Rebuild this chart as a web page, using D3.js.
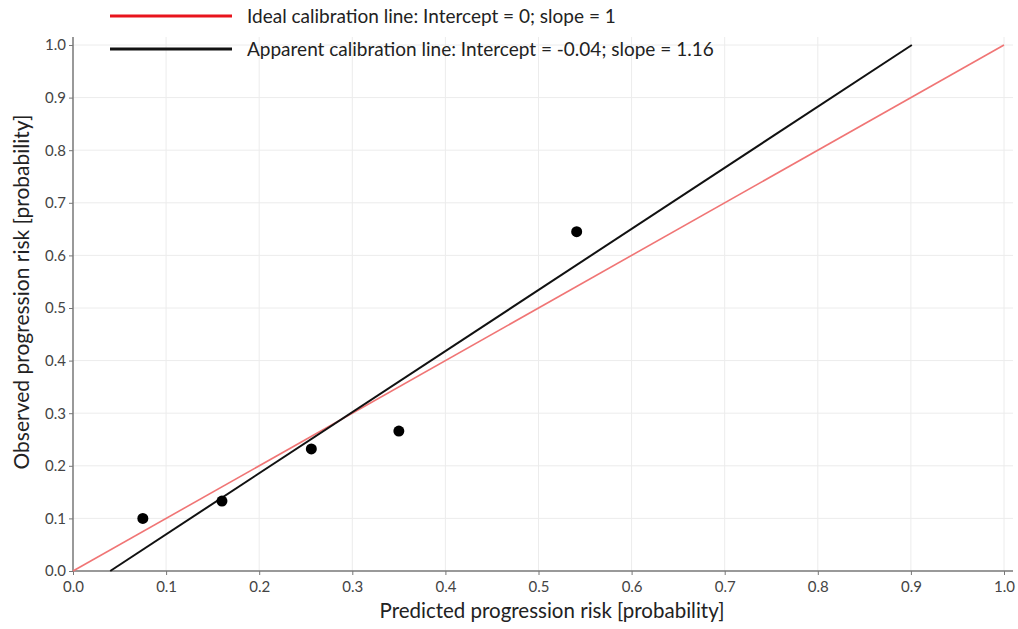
<!DOCTYPE html>
<html>
<head>
<meta charset="utf-8">
<script src="https://cdn.jsdelivr.net/npm/d3@7"></script>
<style>
  body { margin: 0; background: #fff; }
  svg { display: block; }
</style>
</head>
<body>
<div id="chart"></div>
<script>
// Observed vs predicted points
var predicted = [0.075, 0.160, 0.256, 0.350, 0.541];
var observed = [0.100, 0.133, 0.232, 0.266, 0.645];

// Calibration lines, as end points
var idealLine = [[0, 0], [1, 1]];
var apparentLine = [[0.04, 0], [0.901, 1]];

var tickValues = [0, 0.1, 0.2, 0.3, 0.4, 0.5, 0.6, 0.7, 0.8, 0.9, 1.0];
var legendLabels = [
    "Ideal calibration line: Intercept = 0; slope = 1",
    "Apparent calibration line: Intercept = -0.04; slope = 1.16"
];
var legendColors = ["#e8141c", "#111"];

var width = 1018;
var height = 629;
var font = "Lato, 'Open Sans', sans-serif";

var x = d3.scaleLinear().domain([0, 1]).range([73, 1004]);
var y = d3.scaleLinear().domain([0, 1]).range([571, 45]);
var plotTop = 37;
var plotRight = 1013;

var svg = d3.select("#chart")
    .append("svg")
    .attr("width", width)
    .attr("height", height);

// Grid lines
svg.append("g")
    .selectAll("line")
    .data(tickValues.slice(1))
    .enter()
    .append("line")
    .attr("x1", function (d) { return x(d); })
    .attr("x2", function (d) { return x(d); })
    .attr("y1", plotTop)
    .attr("y2", y(0))
    .attr("stroke", "#ececec")
    .attr("stroke-width", 1);

svg.append("g")
    .selectAll("line")
    .data(tickValues.slice(1))
    .enter()
    .append("line")
    .attr("x1", x(0))
    .attr("x2", plotRight)
    .attr("y1", function (d) { return y(d); })
    .attr("y2", function (d) { return y(d); })
    .attr("stroke", "#ececec")
    .attr("stroke-width", 1);

// Axes
var xAxis = svg.append("g")
    .attr("transform", "translate(0," + y(0) + ")")
    .call(d3.axisBottom(x).tickValues(tickValues).tickFormat(d3.format(".1f")).tickSize(4).tickSizeOuter(0));
xAxis.select(".domain").attr("d", "M" + x(0) + ",0H" + plotRight);

var yAxis = svg.append("g")
    .attr("transform", "translate(" + x(0) + ",0)")
    .call(d3.axisLeft(y).tickValues(tickValues).tickFormat(d3.format(".1f")).tickSize(4).tickSizeOuter(0));
yAxis.select(".domain").attr("d", "M0," + plotTop + "V" + y(0));

svg.selectAll(".domain").attr("stroke", "#777").attr("stroke-width", 1.5);
svg.selectAll(".tick line").attr("stroke", "#777");
svg.selectAll(".tick text")
    .style("font-family", font)
    .style("font-size", "15px")
    .attr("fill", "#444");
xAxis.selectAll(".tick text").attr("dy", "0.9em");

// Calibration lines
var line = d3.line()
    .x(function (d) { return x(d[0]); })
    .y(function (d) { return y(d[1]); });

svg.append("path")
    .datum(idealLine)
    .attr("d", line)
    .attr("fill", "none")
    .attr("stroke", "#f07575")
    .attr("stroke-width", 1.6);

svg.append("path")
    .datum(apparentLine)
    .attr("d", line)
    .attr("fill", "none")
    .attr("stroke", "#111")
    .attr("stroke-width", 2);

// Points
svg.append("g")
    .selectAll("circle")
    .data(predicted)
    .enter()
    .append("circle")
    .attr("cx", function (d) { return x(d); })
    .attr("cy", function (d, i) { return y(observed[i]); })
    .attr("r", 5.5)
    .attr("fill", "#000");

// Legend
var legend = svg.append("g")
    .selectAll("g")
    .data(legendLabels)
    .enter()
    .append("g")
    .attr("transform", function (d, i) { return "translate(110," + (16 + i * 33) + ")"; });

legend.append("line")
    .attr("x1", 0)
    .attr("x2", 122)
    .attr("stroke", function (d, i) { return legendColors[i]; })
    .attr("stroke-width", 3);

legend.append("text")
    .attr("x", 137)
    .attr("dy", "0.35em")
    .style("font-family", font)
    .style("font-size", "19px")
    .attr("fill", "#222")
    .text(function (d) { return d; });

// Axis titles
svg.append("text")
    .attr("x", 552)
    .attr("y", 618)
    .attr("text-anchor", "middle")
    .style("font-family", font)
    .style("font-size", "20.5px")
    .attr("fill", "#222")
    .text("Predicted progression risk [probability]");

svg.append("text")
    .attr("transform", "translate(29," + 292 + ") rotate(-90)")
    .attr("text-anchor", "middle")
    .style("font-family", font)
    .style("font-size", "21px")
    .attr("fill", "#222")
    .text("Observed progression risk [probability]");
</script>
</body>
</html>
